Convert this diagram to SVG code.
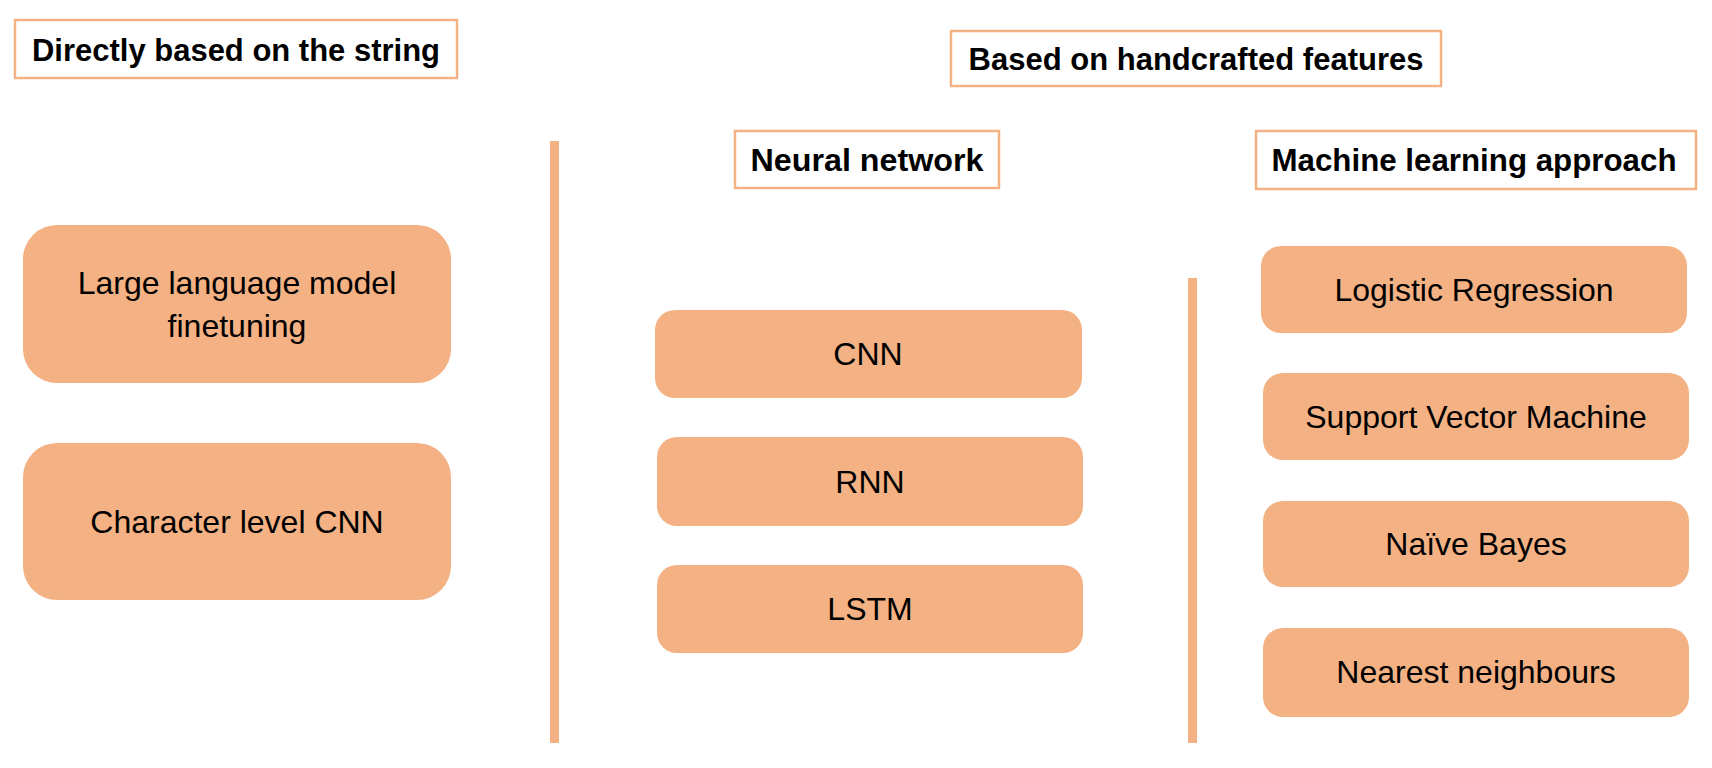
<svg xmlns="http://www.w3.org/2000/svg" width="1712" height="768" viewBox="0 0 1712 768">
<style>
.hdr{fill:#ffffff;stroke:#F4B183;stroke-width:2.5}
.box{fill:#F4B183}
.sep{fill:#F4B183}
.ht{font-family:"Liberation Sans",Arial,sans-serif;font-weight:bold;font-size:31px;fill:#000;text-anchor:middle}
.bt{font-family:"Liberation Sans",Arial,sans-serif;font-size:32px;fill:#000;text-anchor:middle}
</style>
<rect width="1712" height="768" fill="#ffffff"/>
<g id="connectors">
<rect class="sep" x="550" y="141" width="9" height="602"/>
<rect class="sep" x="1188" y="278" width="9" height="465"/>
</g>
<g id="hdr-direct">
<rect class="hdr" x="15" y="20" width="442" height="58"/>
<text class="ht" x="236" y="61" textLength="408" lengthAdjust="spacingAndGlyphs">Directly based on the string</text>
</g>
<g id="hdr-handcrafted">
<rect class="hdr" x="951" y="31" width="490" height="55"/>
<text class="ht" x="1196" y="70" textLength="455" lengthAdjust="spacingAndGlyphs">Based on handcrafted features</text>
</g>
<g id="hdr-neural">
<rect class="hdr" x="735" y="131" width="264" height="57"/>
<text class="ht" x="867" y="171" textLength="233" lengthAdjust="spacingAndGlyphs">Neural network</text>
</g>
<g id="hdr-ml">
<rect class="hdr" x="1256" y="131" width="440" height="58"/>
<text class="ht" x="1474" y="171" textLength="405" lengthAdjust="spacingAndGlyphs">Machine learning approach</text>
</g>
<g id="llm">
<rect class="box" x="23" y="225" width="428" height="158" rx="34" ry="34"/>
<text class="bt" x="237" y="294">Large language model</text>
<text class="bt" x="237" y="337">finetuning</text>
</g>
<g id="charcnn">
<rect class="box" x="23" y="443" width="428" height="157" rx="34" ry="34"/>
<text class="bt" x="237" y="533">Character level CNN</text>
</g>
<g id="cnn">
<rect class="box" x="655" y="310" width="427" height="88" rx="20" ry="20"/>
<text class="bt" x="868" y="365">CNN</text>
</g>
<g id="rnn">
<rect class="box" x="657" y="437" width="426" height="89" rx="20" ry="20"/>
<text class="bt" x="870" y="493">RNN</text>
</g>
<g id="lstm">
<rect class="box" x="657" y="565" width="426" height="88" rx="20" ry="20"/>
<text class="bt" x="870" y="620">LSTM</text>
</g>
<g id="logreg">
<rect class="box" x="1261" y="246" width="426" height="87" rx="20" ry="20"/>
<text class="bt" x="1474" y="301">Logistic Regression</text>
</g>
<g id="svm">
<rect class="box" x="1263" y="373" width="426" height="87" rx="20" ry="20"/>
<text class="bt" x="1476" y="428">Support Vector Machine</text>
</g>
<g id="nb">
<rect class="box" x="1263" y="501" width="426" height="86" rx="20" ry="20"/>
<text class="bt" x="1476" y="555">Naïve Bayes</text>
</g>
<g id="nn">
<rect class="box" x="1263" y="628" width="426" height="89" rx="20" ry="20"/>
<text class="bt" x="1476" y="683">Nearest neighbours</text>
</g>
</svg>
